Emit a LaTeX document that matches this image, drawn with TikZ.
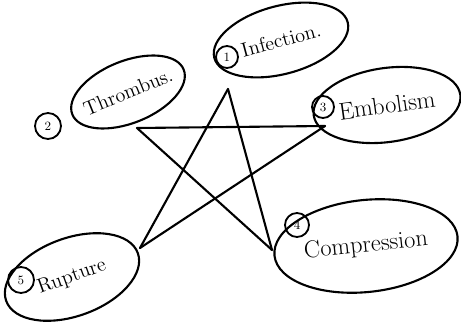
\documentclass[tikz,border=0pt]{standalone}
\usepackage{tikz}
\usetikzlibrary{shapes,positioning}

\begin{document}
\begin{tikzpicture}[
    x=0.025cm, y=-0.025cm,
    mynode/.style={draw, ellipse, line width=1.5pt, text centered, inner sep=0pt, font=\Large},
    mynum/.style={draw, circle, line width=1.3pt, inner sep=0pt, minimum size=0.55cm, font=\small},
    myedge/.style={line width=1.5pt, line cap=round}
]
\useasboundingbox (0,0) rectangle (461,328);

% the five causes
\node[mynode, inner xsep=-1.5mm, minimum width=3cm, minimum height=1.55cm, rotate=22] (T) at (128,92) {Thrombus.};
\node[mynode, minimum width=3.45cm, minimum height=1.7cm, rotate=15] (I) at (281,40) {Infection.};
\node[mynode, font=\LARGE, minimum width=3.7cm, minimum height=1.85cm, rotate=8] (E) at (387,105) {Embolism};
\node[mynode, font=\LARGE, minimum width=4.6cm, minimum height=2.3cm, rotate=6] (C) at (366,246) {Compression};
\node[mynode, minimum width=3.5cm, minimum height=1.95cm, rotate=20] (R) at (72,277) {Rupture};

% circled numbers
\node[mynum] (n1) at (227,57) {1};
\node[mynum, minimum size=0.65cm] (n2) at (48,126) {2};
\node[mynum] (n3) at (323,107) {3};
\node[mynum, minimum size=0.6cm] (n4) at (297,225) {4};
\node[mynum, minimum size=0.65cm] (n5) at (21,280) {5};

% star
\coordinate (st) at (228,89);
\coordinate (sl) at (137,128);
\coordinate (sr) at (325,126);
\coordinate (sbr) at (272,250);
\coordinate (sbl) at (140,248);

\draw[myedge] (st) -- (sbl);
\draw[myedge] (st) -- (sbr);
\draw[myedge] (sl) -- (sr);
\draw[myedge] (sl) -- (sbr);
\draw[myedge] (sr) -- (sbl);
\end{tikzpicture}
\end{document}
